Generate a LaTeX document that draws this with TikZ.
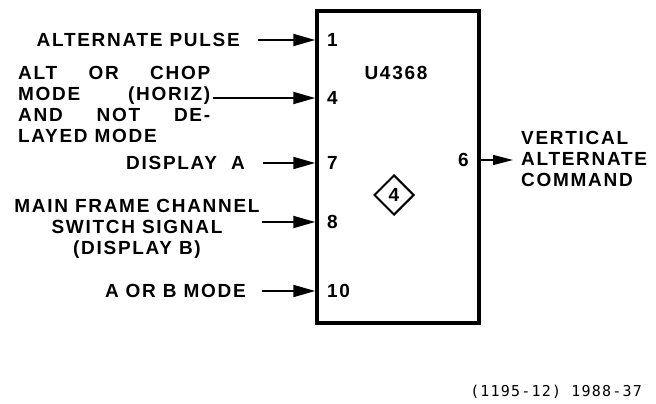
\documentclass[tikz,border=0pt]{standalone}
\usepackage{fontspec}
\setmainfont{Liberation Sans}
\newfontfamily\labelfont[LetterSpace=9]{Liberation Sans}
\newfontfamily\codefont[LetterSpace=8]{DejaVu Sans Mono}
\usetikzlibrary{arrows.meta,positioning,shapes.geometric}
\newcommand\sig{\labelfont\bfseries\fontsize{19}{21}\selectfont}

\begin{document}
\begin{tikzpicture}[x=1pt,y=-1pt,
  sigtext/.style={font=\sig, inner sep=0pt},
  pinno/.style={font=\sig, inner sep=0pt, anchor=west},
  feed/.style={line width=1.8pt, -{Triangle[length=22pt,width=12pt]}}]
  \useasboundingbox (0,0) rectangle (656,404);
  % the chip
  \node[draw, line width=3.5pt, minimum width=162pt, minimum height=312pt]
    (U) at (398,167) {};
  \node[sigtext] (chipname) at (396,73) {U4368};
  \node[draw, diamond, line width=2pt, inner sep=0pt, aspect=1,
        minimum width=40pt, minimum height=40pt, font=\sig]
    (ref) at (394,195) {4};
  % pin numbers
  \node[pinno] (n1) at (327,40) {1};
  \node[pinno] (n4) at (327,98) {4};
  \node[pinno] (n7) at (327,163) {7};
  \node[pinno] (n8) at (327,222) {8};
  \node[pinno] (n10) at (327,291) {10};
  \node[pinno, anchor=east] (n6) at (469,160) {6};
  % input signals
  \node[sigtext, anchor=west, align=left] (altchop) at (18,104)
    {\makebox[192pt][s]{ALT OR CHOP}\\\makebox[192pt][s]{MODE (HORIZ)}\\
     \makebox[192pt][s]{AND NOT DE-}\\LAYED MODE};
  \node[sigtext, anchor=east] (altp) at (240,40) {ALTERNATE PULSE};
  \node[sigtext, anchor=east] (dispa) at (245,163) {DISPLAY\ \ A};
  \node[sigtext, align=center] (mainfr) at (137,229)
    {MAIN FRAME CHANNEL\\SWITCH SIGNAL\\(DISPLAY B)};
  \node[sigtext, anchor=east] (aorb) at (246,291) {A OR B MODE};
  % output signal
  \node[sigtext, anchor=west, align=left] (vert) at (521,159)
    {VERTICAL\\ALTERNATE\\COMMAND};
  \node[font=\codefont\fontsize{15}{16}\selectfont, anchor=east, inner sep=0pt]
    (fig) at (642,392) {(1195-12) 1988-37};

  \draw[feed, shorten <=18pt] (altp) -- (altp -| U.west);
  \draw[feed, shorten <=3pt] (altchop.east |- n4) -- (n4 -| U.west);
  \draw[feed, shorten <=18pt] (dispa) -- (dispa -| U.west);
  \draw[feed, shorten <=2pt] (mainfr.east |- n8) -- (n8 -| U.west);
  \draw[feed, shorten <=16pt] (aorb) -- (aorb -| U.west);
  \draw[line width=1.4pt, -{Triangle[length=20pt,width=10pt]}, shorten >=8pt]
    (U.east |- n6) -- (vert.west |- n6);
\end{tikzpicture}
\end{document}
